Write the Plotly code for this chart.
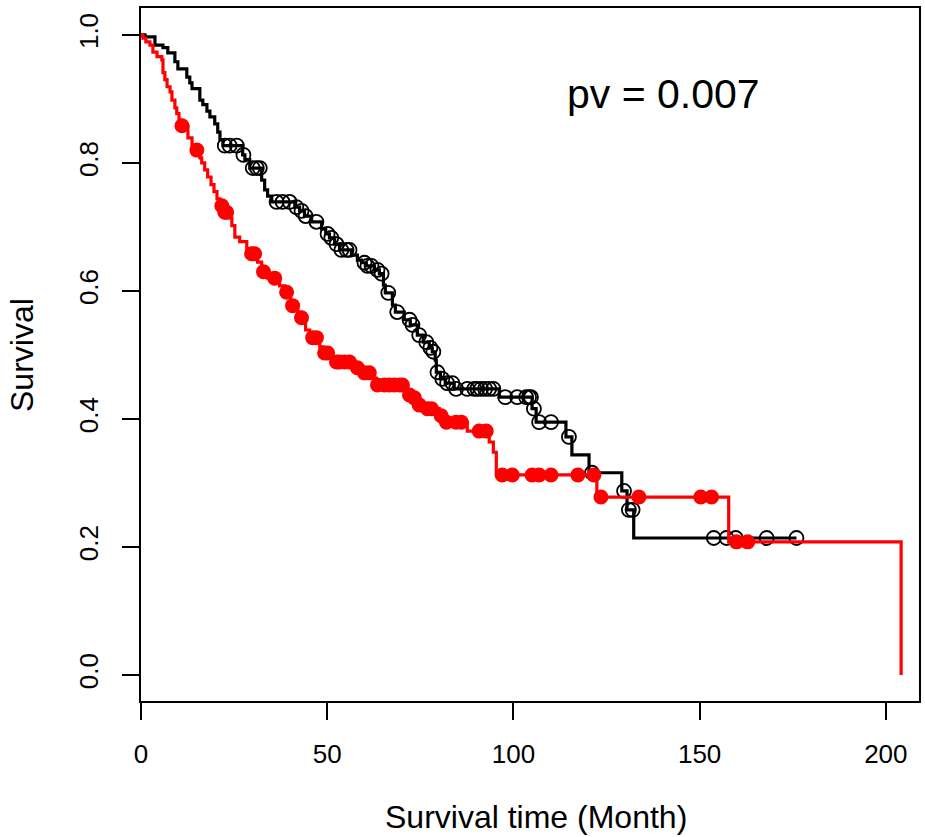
import numpy as np
import plotly.graph_objects as go

# ---- Data (Kaplan-Meier step curves) ----
black_times = [0, 1.07, 3.75, 5.9, 7.2, 9.1, 9.9, 12.3, 13.1, 13.7, 15.8, 16.6, 17.7, 18.5, 19.8,
               20.6, 21.2, 22.0, 27.3, 27.9, 29.2, 32.4, 33.2, 34.0, 35.1, 41.3, 42.6, 43.9, 45.8,
               48.5, 49.6, 50.6, 52.0, 53.3, 56.5, 58.1, 59.2, 60.5, 62.7, 64.0, 65.1, 65.6, 67.5,
               68.3, 70.7, 72.3, 74.2, 75.8, 77.4, 78.2, 79.0, 79.3, 80.4, 81.7, 84.1, 96.2, 105.0,
               106.1, 114.1, 115.7, 120.3, 129.1, 130.5, 132.3]
black_surv = [1.0, 0.997, 0.984, 0.980, 0.972, 0.958, 0.947, 0.934, 0.925, 0.916, 0.898, 0.891,
              0.881, 0.872, 0.861, 0.848, 0.836, 0.827, 0.8125, 0.805, 0.792, 0.773, 0.758, 0.748,
              0.739, 0.731, 0.725, 0.717, 0.708, 0.697, 0.689, 0.683, 0.673, 0.664, 0.656, 0.648,
              0.644, 0.639, 0.633, 0.627, 0.609, 0.597, 0.578, 0.567, 0.555, 0.547, 0.531, 0.520,
              0.511, 0.505, 0.492, 0.473, 0.4625, 0.456, 0.447, 0.434, 0.416, 0.395, 0.372, 0.344,
              0.316, 0.2875, 0.258, 0.214]
black_end = 176.0
black_censor = [22.5, 23.8, 25.7, 27.5, 30.0, 31.1, 31.9, 36.4, 38.0, 39.9, 41.7, 43.1, 44.2, 47.1,
                50.1, 51.1, 52.5, 53.8, 55.2, 56.0, 60.0, 60.8, 61.9, 63.5, 64.6, 66.4, 68.8, 72.1,
                72.9, 74.7, 76.6, 77.7, 78.5, 79.6, 80.9, 82.2, 83.6, 84.6, 87.6, 89.5, 90.3, 91.3,
                92.4, 93.5, 94.6, 97.8, 101.0, 103.4, 104.2, 104.7, 105.5, 106.9, 110.1, 114.9,
                121.1, 129.7, 131.0, 132.0, 153.8, 157.2, 159.7, 168.0, 176.0]

red_times = [0, 0.5, 1.3, 2.4, 3.2, 4.3, 5.6, 5.9, 6.4, 7.0, 7.8, 8.3, 9.1, 9.6, 10.2, 10.7, 12.6,
             13.7, 14.5, 15.8, 16.3, 17.1, 17.9, 18.8, 19.6, 20.4, 21.2, 22.2, 23.6, 24.4, 25.2,
             26.5, 28.4, 29.5, 31.3, 32.4, 34.0, 37.2, 38.6, 40.2, 42.1, 42.9, 44.2, 45.3, 48.0,
             48.8, 51.2, 52.2, 57.3, 59.2, 62.4, 63.2, 71.3, 72.9, 74.2, 76.1, 80.1, 81.4, 87.6,
             93.5, 94.6, 95.4, 122.4, 157.8, 204.1]
red_surv = [1.0, 0.995, 0.989, 0.984, 0.973, 0.966, 0.961, 0.941, 0.930, 0.919, 0.911, 0.898,
            0.886, 0.877, 0.867, 0.858, 0.839, 0.828, 0.820, 0.808, 0.800, 0.789, 0.778, 0.766,
            0.755, 0.744, 0.733, 0.723, 0.714, 0.702, 0.684, 0.677, 0.666, 0.658, 0.645, 0.630,
            0.620, 0.608, 0.598, 0.577, 0.567, 0.558, 0.539, 0.527, 0.5125, 0.503, 0.495, 0.489,
            0.480, 0.472, 0.464, 0.453, 0.4375, 0.433, 0.422, 0.416, 0.405, 0.395, 0.381, 0.364,
            0.348, 0.3125, 0.278, 0.208, 0.0]
red_censor = [11.0, 15.0, 21.7, 22.5, 23.0, 29.7, 30.5, 32.9, 35.9, 39.1, 40.7, 43.1, 46.1, 47.1,
              49.3, 50.1, 52.5, 53.3, 54.7, 56.0, 58.1, 60.0, 61.3, 63.5, 65.4, 66.7, 68.0, 69.4,
              70.2, 72.1, 73.4, 74.7, 76.9, 78.0, 80.6, 82.0, 84.6, 86.0, 90.8, 92.7, 97.0, 99.7,
              105.0, 106.9, 110.1, 117.3, 121.6, 123.5, 133.7, 150.3, 153.2, 159.9, 162.9]

x_ticks = [0, 50, 100, 150, 200]
y_ticks = [0.0, 0.2, 0.4, 0.6, 0.8, 1.0]
pv_text = "pv = 0.007"


def surv_at(times, surv, t):
    times = np.asarray(times)
    idx = np.searchsorted(times, np.asarray(t), side="right") - 1
    return np.asarray(surv)[idx]


FONT = "Liberation Sans, Arial, Helvetica, sans-serif"

fig = go.Figure()

# black curve
fig.add_trace(go.Scatter(
    x=list(black_times) + [black_end], y=list(black_surv) + [black_surv[-1]],
    mode="lines", line=dict(color="black", width=3.2, shape="hv"), hoverinfo="skip"))
fig.add_trace(go.Scatter(
    x=black_censor, y=surv_at(black_times, black_surv, black_censor),
    mode="markers", marker=dict(symbol="circle-open", size=14, color="black", line=dict(width=1.8)),
    hoverinfo="skip"))

# red curve
fig.add_trace(go.Scatter(
    x=red_times, y=red_surv,
    mode="lines", line=dict(color="#ff0000", width=3.2, shape="hv"), hoverinfo="skip"))
fig.add_trace(go.Scatter(
    x=red_censor, y=surv_at(red_times, red_surv, red_censor),
    mode="markers", marker=dict(symbol="circle", size=15, color="#ff0000"),
    hoverinfo="skip"))

fig.update_layout(
    width=925, height=837,
    margin=dict(l=141, r=4, t=8, b=136),
    plot_bgcolor="white", paper_bgcolor="white",
    showlegend=False,
    font=dict(family=FONT, color="black"),
    xaxis=dict(range=[0, 208.9], tickvals=x_ticks, ticktext=[str(v) for v in x_ticks],
               showline=True, mirror=True, linecolor="black", linewidth=1.5,
               ticks="outside", ticklen=17, tickwidth=1.5, tickcolor="black",
               showgrid=False, zeroline=False, tickfont=dict(size=26, family=FONT),
               ticklabelstandoff=12),
    yaxis=dict(range=[-0.0406, 1.042], tickvals=y_ticks, ticktext=[f"{v:.1f}" for v in y_ticks],
               showline=True, mirror=True, linecolor="black", linewidth=1.5,
               ticks="outside", ticklen=17, tickwidth=1.5, tickcolor="black",
               showgrid=False, zeroline=False, tickfont=dict(size=26, family=FONT),
               tickangle=-90, ticklabelstandoff=14),
    annotations=[
        dict(text=pv_text, x=140.4, y=0.908, xref="x", yref="y", showarrow=False,
             font=dict(size=41, family=FONT), xanchor="center", yanchor="middle"),
        dict(text="Survival time (Month)", x=0.508, y=0, xref="paper", yref="paper",
             yshift=-116, showarrow=False, font=dict(size=32, family=FONT),
             xanchor="center", yanchor="middle", borderpad=0),
        dict(text="Survival", x=0, y=0.4993, xref="paper", yref="paper", xshift=-119,
             showarrow=False, textangle=-90, font=dict(size=32, family=FONT),
             xanchor="center", yanchor="middle"),
    ],
)

fig.write_html("out.html", config={"displayModeBar": False},
               post_script="document.body.style.margin='0';document.body.style.overflow='hidden';")
